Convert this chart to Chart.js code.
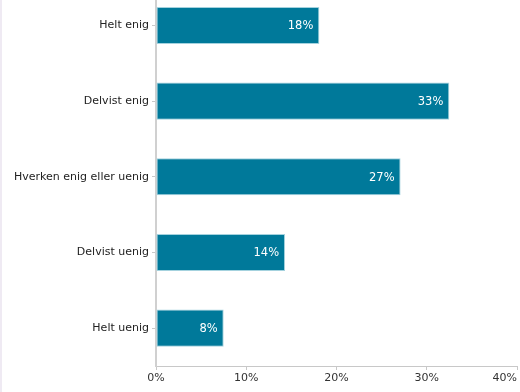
<!DOCTYPE html>
<html>
<head>
<meta charset="utf-8">
<script src="https://cdn.jsdelivr.net/npm/chart.js@4/dist/chart.umd.min.js"></script>
<style>
  html, body { margin: 0; padding: 0; background: #fff; overflow: hidden; }
  body { width: 520px; height: 392px; position: relative; }
  #edge { position: absolute; left: 0; top: 0; width: 2px; height: 392px; background: #efeaf3; }
  #wrap { position: absolute; left: 0; top: -22px; width: 520px; height: 414px; }
</style>
</head>
<body>
<div id="edge"></div>
<div id="wrap"><canvas id="c" width="520" height="414"></canvas></div>
<script>
const categories = ["Helt enig", "Delvist enig", "Hverken enig eller uenig", "Delvist uenig", "Helt uenig"];
const values = [18.1, 32.5, 27.1, 14.3, 7.5];
const valueLabels = ["18%", "33%", "27%", "14%", "8%"];
const xTicks = [0, 10, 20, 30, 40];

const FONT = "'DejaVu Sans', Verdana, sans-serif";

const labelPlugin = {
  id: 'barLabels',
  afterDatasetsDraw(chart) {
    const ctx = chart.ctx;
    const meta = chart.getDatasetMeta(0);
    ctx.save();
    ctx.fillStyle = '#ffffff';
    ctx.font = "11.5px " + FONT;
    ctx.textAlign = 'right';
    ctx.textBaseline = 'middle';
    meta.data.forEach((bar, i) => {
      ctx.fillText(valueLabels[i], bar.x - 6, bar.y + 1);
    });
    ctx.restore();

    // x-axis tick labels (last one kept inside the canvas, as in the reference)
    const xs = chart.scales.x;
    ctx.save();
    ctx.fillStyle = '#333';
    ctx.font = "11px " + FONT;
    ctx.textBaseline = 'top';
    xTicks.forEach((v, i) => {
      const px = xs.getPixelForValue(v);
      ctx.textAlign = (i === xTicks.length - 1) ? 'right' : 'center';
      ctx.fillText(v + '%', px, xs.top + 7);
    });
    ctx.restore();
  }
};

new Chart(document.getElementById('c'), {
  type: 'bar',
  data: {
    labels: categories,
    datasets: [{
      data: values,
      backgroundColor: '#00799a',
      borderColor: '#a4d2de',
      borderWidth: 1,
      borderSkipped: false,
      barPercentage: 0.49,
      categoryPercentage: 1
    }]
  },
  options: {
    indexAxis: 'y',
    responsive: false,
    animation: false,
    devicePixelRatio: 1,
    layout: { padding: { top: 0, right: 3, left: 0, bottom: 0 } },
    plugins: { legend: { display: false }, tooltip: { enabled: false } },
    scales: {
      x: {
        min: 0, max: 40,
        afterBuildTicks(scale) { scale.ticks = xTicks.map(v => ({ value: v })); },
        afterFit(scale) { scale.height = 26; },
        ticks: { display: false },
        grid: { drawOnChartArea: false, drawTicks: true, tickLength: 4, color: '#c8c8c8' },
        border: { color: '#c8c8c8', width: 1 }
      },
      y: {
        afterFit(scale) { scale.width = 156; },
        ticks: {
          color: '#222',
          font: { family: FONT, size: 11 },
          padding: 3
        },
        grid: { offset: false, drawOnChartArea: false, drawTicks: true, tickLength: 4, color: '#c8c8c8' },
        border: { color: '#d0d0d0', width: 2 }
      }
    }
  },
  plugins: [labelPlugin]
});
</script>
</body>
</html>
